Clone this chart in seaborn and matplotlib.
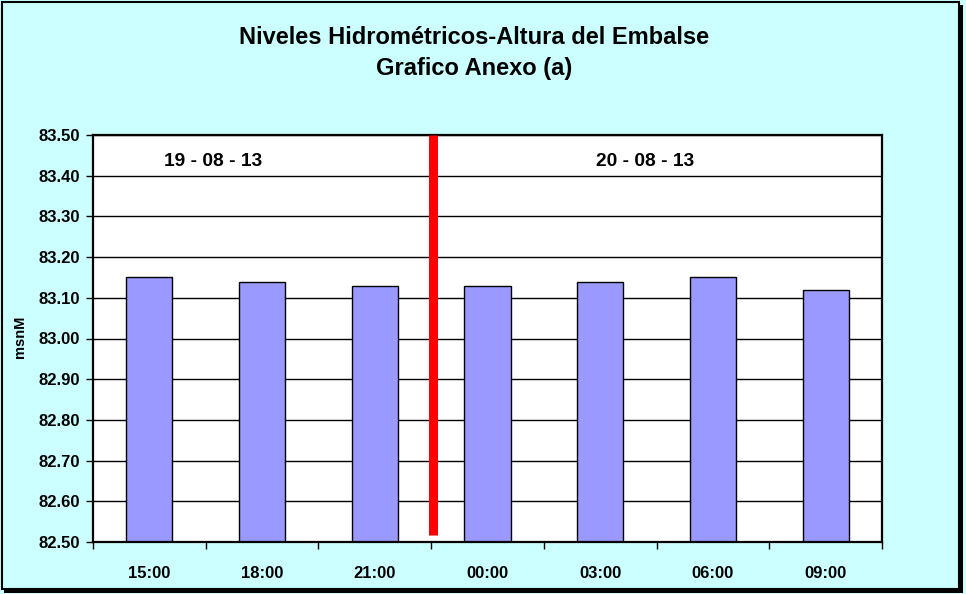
import matplotlib
matplotlib.use("Agg")
import matplotlib.pyplot as plt
import seaborn as sns
import pandas as pd
from matplotlib.patches import Rectangle

categories = ["15:00", "18:00", "21:00", "00:00", "03:00", "06:00", "09:00"]
values = [83.15, 83.14, 83.13, 83.13, 83.14, 83.15, 83.12]
y_ticks = [82.50, 82.60, 82.70, 82.80, 82.90, 83.00, 83.10, 83.20, 83.30, 83.40, 83.50]
date_labels = ["19 - 08 - 13", "20 - 08 - 13"]
divider_bottom = 82.517

sns.set_theme(style="white")
plt.rcParams['font.family'] = ['Liberation Sans', 'DejaVu Sans']
plt.rcParams['text.color'] = 'black'
plt.rcParams['axes.labelcolor'] = 'black'
plt.rcParams['xtick.color'] = 'black'
plt.rcParams['ytick.color'] = 'black'

fig = plt.figure(figsize=(9.66, 5.94), dpi=100, facecolor="#CCFFFF")
ax = fig.add_axes([93/966, 1-542/594, (882-93)/966, (542-135)/594])
ax.set_facecolor("white")

df = pd.DataFrame({"hora": categories, "nivel": values})
ax.set_axisbelow(True)
for yv in y_ticks:
    ax.axhline(yv, color="black", linewidth=1.0, zorder=0)
sns.barplot(data=df, x="hora", y="nivel", color="#9999FF", edgecolor="black",
            linewidth=1.0, width=0.41, saturation=1, ax=ax, zorder=2)

ax.set_ylim(82.5, 83.5)
ax.set_xlim(-0.5, len(categories) - 0.5)
ax.set_yticks(y_ticks)
ax.set_yticklabels([f"{v:.2f}" for v in y_ticks], fontsize=12, fontweight="bold")
ax.set_xticks([i - 0.5 for i in range(len(categories) + 1)])
ax.set_xticklabels([])
ax.set_xticks(range(len(categories)), minor=True)
ax.set_xticklabels(categories, minor=True, fontsize=12, fontweight="bold")
ax.tick_params(axis="x", which="major", direction="out", length=5, width=1, color="black", bottom=True)
ax.tick_params(axis="x", which="minor", length=0, pad=17)
ax.tick_params(axis="y", direction="out", length=5, width=1, color="black", left=True, pad=4.3)
ax.set_xlabel("")
ax.set_ylabel("msnM", fontsize=10.5, fontweight="bold")
ax.yaxis.label.set_va("center")
ax.yaxis.set_label_coords((20 - 93) / 789, (542 - 337) / 407)

for s in ax.spines.values():
    s.set_color("black")
    s.set_linewidth(1.6)
    s.set_visible(True)

ax.plot([2.52, 2.52], [divider_bottom, 83.5], color="#FF0000", linewidth=6.5,
        solid_capstyle="butt", zorder=3, clip_on=False)

ax.text(0.57, 83.435, date_labels[0], ha="center", va="center", fontsize=13.8, fontweight="bold")
ax.text(4.4, 83.435, date_labels[1], ha="center", va="center", fontsize=13.8, fontweight="bold")

fig.text(474/966, 1-37/594, "Niveles Hidrométricos-Altura del Embalse", ha="center", va="center",
         fontsize=17, fontweight="bold")
fig.text(474/966, 1-68/594, "Grafico Anexo (a)", ha="center", va="center",
         fontsize=17, fontweight="bold")

# outer frame with shadow (thick right and bottom)
fig.patches.append(Rectangle((2/966, 5/594), (959-2)/966, (592-5)/594, transform=fig.transFigure,
                             fill=False, edgecolor="black", linewidth=1.5))
fig.patches.append(Rectangle((959/966, 3/594), 4/966, (589-3)/594, transform=fig.transFigure,
                             facecolor="black", edgecolor="none"))
fig.patches.append(Rectangle((4/966, 1/594), (963-4)/966, 4/594, transform=fig.transFigure,
                             facecolor="black", edgecolor="none"))

fig.savefig("out.png", dpi=100, facecolor=fig.get_facecolor())
